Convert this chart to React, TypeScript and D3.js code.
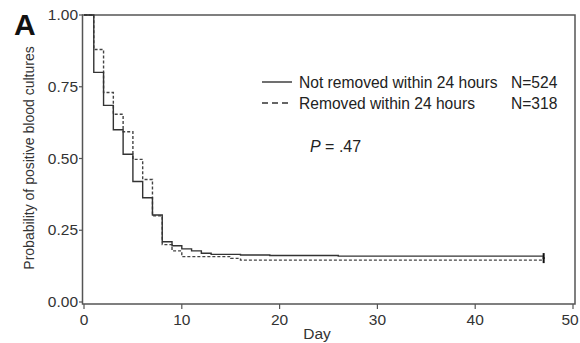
import React, { useEffect, useRef } from "react";
import * as d3 from "d3";

// Kaplan-Meier style step data (day, probability)
const notRemovedDays = [0, 1, 2, 3, 4, 5, 6, 7, 8, 9, 10, 11, 12, 13, 16, 19, 26, 47];
const notRemovedProb = [1, 0.8, 0.685, 0.6, 0.515, 0.42, 0.363, 0.303, 0.21, 0.196, 0.185, 0.178, 0.17, 0.166, 0.164, 0.162, 0.16, 0.16];
const removedDays = [0, 1, 2, 3, 4, 5, 6, 7, 8, 9, 10, 15, 16, 47];
const removedProb = [1, 0.88, 0.73, 0.654, 0.593, 0.497, 0.427, 0.3, 0.2, 0.178, 0.158, 0.152, 0.146, 0.146];

const xTicks = [0, 10, 20, 30, 40, 50];
const yTicks = [0, 0.25, 0.5, 0.75, 1];

const legendLabels = ["Not removed within 24 hours", "Removed within 24 hours"];
const legendN = ["N=524", "N=318"];

export default function App() {
  const svgRef = useRef<SVGSVGElement>(null);

  useEffect(() => {
    const svg = d3.select(svgRef.current);
    svg.selectAll("*").remove();

    const width = 580;
    const height = 343;
    const font = "Liberation Sans, Arial, sans-serif";
    const axisColor = "#555";

    svg.attr("width", width).attr("height", height);

    const x = d3.scaleLinear().domain([0, 50]).range([84, 573]);
    const y = d3.scaleLinear().domain([0, 1]).range([302, 15]);

    //plot frame
    svg.append("rect")
      .attr("x", 82.5).attr("y", 15)
      .attr("width", 575 - 82.5).attr("height", 304 - 15)
      .attr("fill", "none")
      .attr("stroke", axisColor)
      .attr("stroke-width", 1.5);

    //y ticks
    const yg = svg.append("g");
    yTicks.forEach((t) => {
      yg.append("line")
        .attr("x1", 79).attr("x2", 83)
        .attr("y1", y(t)).attr("y2", y(t))
        .attr("stroke", axisColor).attr("stroke-width", 1.2);
      yg.append("text")
        .attr("x", 78).attr("y", y(t) + 5)
        .attr("text-anchor", "end")
        .attr("font-family", font).attr("font-size", 15.5)
        .attr("fill", "#333")
        .text(t.toFixed(2));
    });

    //x ticks (last label kept inside the page)
    const xg = svg.append("g");
    xTicks.forEach((t) => {
      xg.append("line")
        .attr("x1", x(t)).attr("x2", x(t))
        .attr("y1", 304).attr("y2", 309)
        .attr("stroke", axisColor).attr("stroke-width", 1.2);
      xg.append("text")
        .attr("x", Math.min(x(t), 570)).attr("y", 325)
        .attr("text-anchor", "middle")
        .attr("font-family", font).attr("font-size", 15.5)
        .attr("fill", "#333")
        .text(t);
    });

    //axis titles
    svg.append("text")
      .attr("x", 317).attr("y", 339)
      .attr("text-anchor", "middle")
      .attr("font-family", font).attr("font-size", 15.5)
      .attr("fill", "#333")
      .text("Day");

    svg.append("text")
      .attr("transform", "rotate(-90)")
      .attr("x", -158).attr("y", 34)
      .attr("text-anchor", "middle")
      .attr("font-family", font).attr("font-size", 14)
      .attr("fill", "#333")
      .text("Probability of positive blood cultures");

    //panel letter
    svg.append("text")
      .attr("x", 14).attr("y", 35)
      .attr("font-family", font).attr("font-size", 30)
      .attr("font-weight", "bold")
      .attr("fill", "#111")
      .text("A");

    //curves
    const line = d3.line<[number, number]>()
      .x((d) => x(d[0]))
      .y((d) => y(d[1]))
      .curve(d3.curveStepAfter);

    svg.append("path")
      .datum(removedDays.map((d, i) => [d, removedProb[i]] as [number, number]))
      .attr("fill", "none")
      .attr("stroke", "#444")
      .attr("stroke-width", 1.4)
      .attr("stroke-dasharray", "3,2")
      .attr("d", line);

    svg.append("path")
      .datum(notRemovedDays.map((d, i) => [d, notRemovedProb[i]] as [number, number]))
      .attr("fill", "none")
      .attr("stroke", "#333")
      .attr("stroke-width", 1.4)
      .attr("d", line);

    //censor marks at the end
    const endDay = notRemovedDays[notRemovedDays.length - 1];
    [notRemovedProb[notRemovedProb.length - 1], removedProb[removedProb.length - 1]].forEach((p) => {
      svg.append("line")
        .attr("x1", x(endDay)).attr("x2", x(endDay))
        .attr("y1", y(p) - 3).attr("y2", y(p) + 3)
        .attr("stroke", "#111").attr("stroke-width", 2);
    });

    //legend
    const lg = svg.append("g");
    legendLabels.forEach((label, i) => {
      const ly = 82 + i * 21;
      lg.append("line")
        .attr("x1", 262).attr("x2", 292)
        .attr("y1", ly).attr("y2", ly)
        .attr("stroke", "#333").attr("stroke-width", 1.4)
        .attr("stroke-dasharray", i === 1 ? "6,4" : null);
      lg.append("text")
        .attr("x", 299).attr("y", ly + 5.5)
        .attr("font-family", font).attr("font-size", 15.6)
        .attr("fill", "#222")
        .text(label);
      lg.append("text")
        .attr("x", 511).attr("y", ly + 5.5)
        .attr("font-family", font).attr("font-size", 15.6)
        .attr("fill", "#222")
        .text(legendN[i]);
    });

    //p value
    const pt = svg.append("text")
      .attr("x", 310).attr("y", 152)
      .attr("font-family", font).attr("font-size", 16)
      .attr("fill", "#222");
    pt.append("tspan").attr("font-style", "italic").text("P");
    pt.append("tspan").text(" = .47");
  }, []);

  return (
    <div style={{ position: "absolute", left: 0, top: 0 }}>
      <svg ref={svgRef}></svg>
    </div>
  );
}
